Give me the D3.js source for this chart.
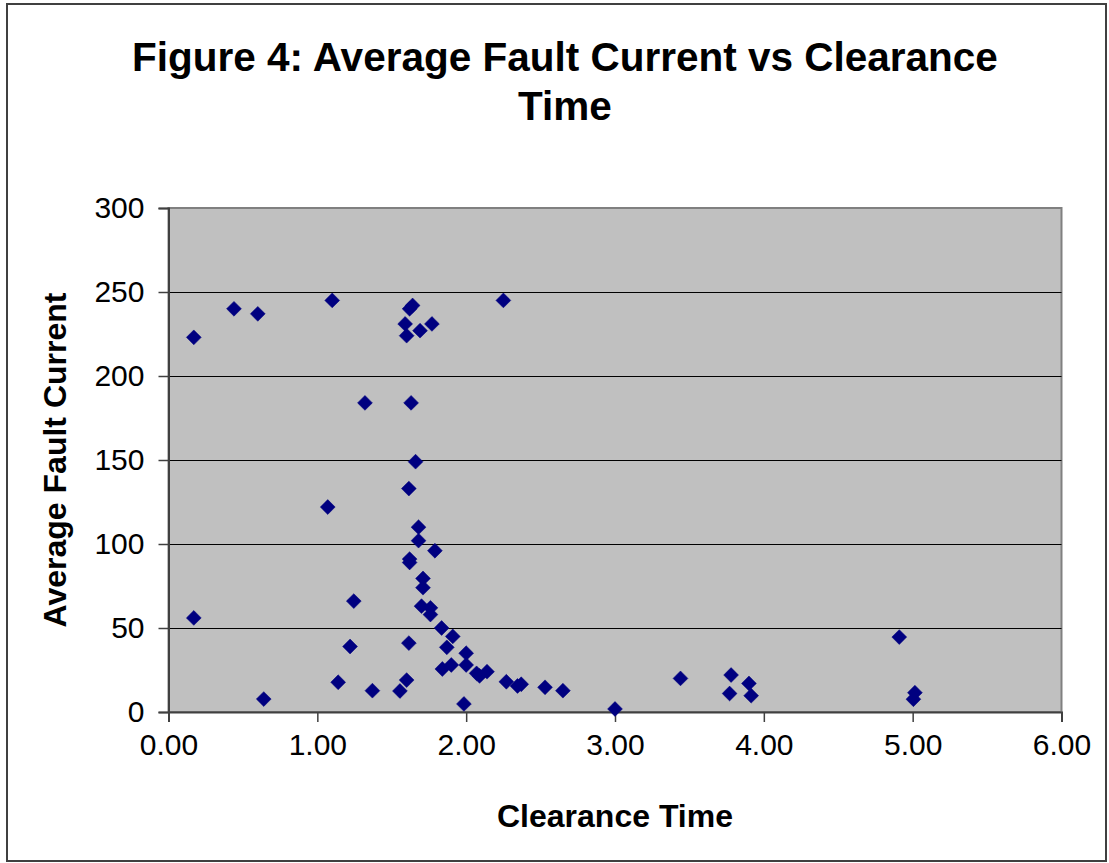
<!DOCTYPE html>
<html>
<head>
<meta charset="utf-8">
<script src="https://cdn.jsdelivr.net/npm/d3@7"></script>
<style>
  body { margin: 0; background: #fff; }
  svg { display: block; font-family: "Liberation Sans", Arial, sans-serif; }
</style>
</head>
<body>
<div id="chart"></div>
<script>
// values
let clearanceTime = [
  0.17, 0.44, 0.60, 1.10, 1.64, 1.62, 1.59, 1.60, 1.69, 1.77, 2.25,
  1.32, 1.63, 1.66, 1.615, 1.07, 1.68, 1.68, 1.79, 1.62, 1.62,
  1.71, 1.71, 1.245, 1.70, 1.76, 1.76, 0.17, 1.835, 1.91, 1.615, 1.22, 1.87,
  2.00, 1.90, 1.84, 2.00, 2.07, 2.09, 2.14, 2.27, 2.345, 2.37, 2.53, 2.65,
  1.14, 1.60, 1.37, 1.555, 0.64, 1.985, 3.00, 3.44, 3.78, 3.90, 3.77, 3.915,
  4.91, 5.015, 5.005
];
let faultCurrent = [
  223, 240, 237, 245, 242, 240, 231, 224, 227, 231, 245,
  184, 184, 149, 133, 122, 110, 102, 96, 91, 89,
  79.5, 74, 66, 63, 62, 58, 56, 50, 45, 41, 39, 38.5,
  35, 28, 25.6, 28, 23, 21.5, 24, 18, 15.5, 16.5, 14.7, 12.7,
  17.7, 19, 12.7, 12.5, 7.7, 4.8, 1.8, 20, 22, 17, 11, 9.7,
  44.6, 11.5, 7.6
];
let xTicks = [0, 1, 2, 3, 4, 5, 6];
let yTicks = [0, 50, 100, 150, 200, 250, 300];
let titleLines = ["Figure 4: Average Fault Current vs Clearance", "Time"];

let width = 1109;
let height = 863;
let plot = {left: 168.5, right: 1061.5, top: 208, bottom: 712};

let svg = d3.select("#chart")
    .append("svg")
    .attr("width", width)
    .attr("height", height);

// outer chart frame
svg.append("rect")
    .attr("x", 7).attr("y", 4)
    .attr("width", 1099).attr("height", 857)
    .attr("fill", "#fff")
    .attr("stroke", "#404040")
    .attr("stroke-width", 2);

let x = d3.scaleLinear().domain([0, 6]).range([plot.left, plot.right]);
let y = d3.scaleLinear().domain([0, 300]).range([plot.bottom, plot.top]);

// plot area
svg.append("rect")
    .attr("x", plot.left).attr("y", plot.top)
    .attr("width", plot.right - plot.left)
    .attr("height", plot.bottom - plot.top)
    .attr("fill", "#c0c0c0")
    .attr("stroke", "#808080")
    .attr("stroke-width", 2);

// horizontal gridlines
svg.append("g")
    .selectAll("line")
    .data(yTicks.filter(d => d > 0 && d < 300))
    .join("line")
    .attr("x1", plot.left).attr("x2", plot.right)
    .attr("y1", d => Math.round(y(d)) + 0.5)
    .attr("y2", d => Math.round(y(d)) + 0.5)
    .attr("stroke", "#000")
    .attr("stroke-width", 1);

// axes
let yAxis = svg.append("g")
    .attr("transform", `translate(${plot.left},0)`)
    .call(d3.axisLeft(y).tickValues(yTicks).tickSize(10).tickPadding(14).tickFormat(d3.format("d")));

let xAxis = svg.append("g")
    .attr("transform", `translate(0,${plot.bottom})`)
    .call(d3.axisBottom(x).tickValues(xTicks).tickSize(10).tickPadding(12).tickFormat(d3.format(".2f")));

[yAxis, xAxis].forEach(axis => {
    axis.select(".domain").attr("stroke", "#404040").attr("stroke-width", 2);
    axis.selectAll(".tick line").attr("stroke", "#404040").attr("stroke-width", 1.5);
    axis.selectAll(".tick text")
        .attr("font-family", "'Liberation Sans', Arial, sans-serif")
        .attr("font-size", 30)
        .attr("fill", "#000");
});

// markers
let points = clearanceTime.map((t, i) => ({t: t, c: faultCurrent[i]}));
svg.append("g")
    .selectAll("path")
    .data(points)
    .join("path")
    .attr("transform", d => `translate(${x(d.t)},${y(d.c)}) rotate(45)`)
    .attr("d", d3.symbol().type(d3.symbolSquare).size(110))
    .attr("fill", "#000080")
    .attr("stroke", "#000080")
    .attr("stroke-width", 0.5);

// titles
svg.append("text")
    .attr("text-anchor", "middle")
    .attr("font-weight", "bold")
    .attr("font-size", 40.5)
    .selectAll("tspan")
    .data(titleLines)
    .join("tspan")
    .attr("x", 565)
    .attr("y", (d, i) => 71 + i * 49)
    .text(d => d);

svg.append("text")
    .attr("x", (plot.left + plot.right) / 2)
    .attr("y", 827)
    .attr("text-anchor", "middle")
    .attr("font-weight", "bold")
    .attr("font-size", 32)
    .text("Clearance Time");

svg.append("text")
    .attr("transform", `translate(66,${(plot.top + plot.bottom) / 2}) rotate(-90)`)
    .attr("text-anchor", "middle")
    .attr("font-weight", "bold")
    .attr("font-size", 32)
    .text("Average Fault Current");
</script>
</body>
</html>
